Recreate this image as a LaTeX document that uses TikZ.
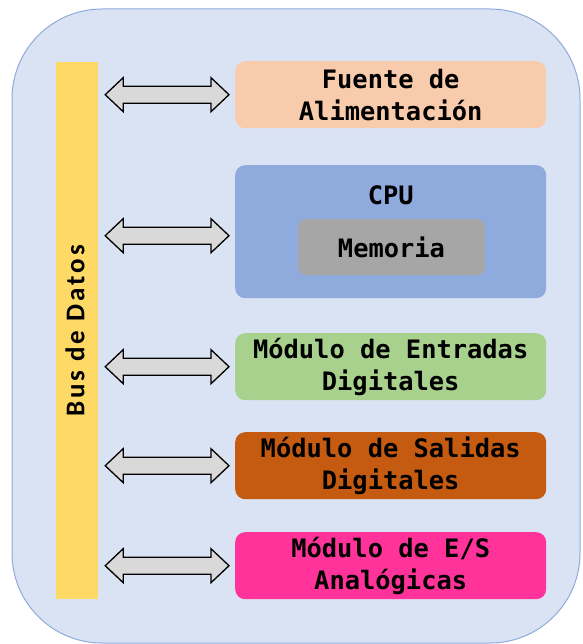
\documentclass[tikz,border=0pt]{standalone}
\usepackage{fontspec}
\usetikzlibrary{calc}
\newfontfamily\boxfont{DejaVu Sans Mono}
\newfontfamily\busfont{Carlito}[LetterSpace=11]
\definecolor{fondo}{HTML}{DAE3F3}
\definecolor{borde}{HTML}{8FAADC}
\definecolor{bus}{HTML}{FFD966}
\definecolor{fuente}{HTML}{F8CBAD}
\definecolor{cpu}{HTML}{8FAADC}
\definecolor{memoria}{HTML}{A6A6A6}
\definecolor{entradas}{HTML}{A9D18E}
\definecolor{salidas}{HTML}{C55A11}
\definecolor{analog}{HTML}{FF3399}
\definecolor{flecha}{HTML}{D9D9D9}
\newcommand{\busarrow}[2][0]{%
  \path (bus.east |- #2.west) ++(7,#1) coordinate (l);
  \path (#2.west) ++(-6,#1) coordinate (r);
  \draw[busline] (l) -- ++(18,-17) -- ++(0,8.5) -- ($(r)+(-18,-8.5)$) -- ++(0,-8.5)
    -- (r) -- ++(-18,17) -- ++(0,-8.5) -- ($(l)+(18,8.5)$) -- ++(0,8.5) -- cycle;}
\begin{document}
\begin{tikzpicture}[x=1pt, y=-1pt,
  modulo/.style={rounded corners=10pt, minimum width=311pt, minimum height=67pt,
    anchor=north west, align=center, inner sep=0pt,
    font=\boxfont\bfseries\fontsize{25.4}{32}\selectfont},
  busline/.style={draw=black, fill=flecha, line width=1.3pt, line join=miter}]
  \useasboundingbox (0,0) rectangle (582,644);
  \draw[fill=fondo, draw=borde, line width=1pt, rounded corners=90pt] (12,9) rectangle (580,643);
  \node[fill=bus, minimum width=42pt, minimum height=537pt, inner sep=0pt] (bus) at (77,330.5) {};
  \node[rotate=90, font=\busfont\bfseries\fontsize{27}{30}\selectfont] (busname) at (75,331) {Bus de Datos};
  \node[modulo, fill=fuente] (v0) at (235,61) {Fuente de\\Alimentación};
  \node[modulo, fill=cpu, minimum height=133pt] (v1) at (235,165) {};
  \node[font=\boxfont\bfseries\fontsize{25.4}{32}\selectfont] (v1name) at ($(v1.north)+(0,30)$) {CPU};
  \node[fill=memoria, rounded corners=8pt, minimum width=187pt, minimum height=56pt,
    font=\boxfont\bfseries\fontsize{25.4}{32}\selectfont] (v1mem) at (391.5,247) {Memoria};
  \node[modulo, fill=entradas] (v2) at (235,333) {Módulo de Entradas\\Digitales};
  \node[modulo, fill=salidas] (v3) at (235,432) {Módulo de Salidas\\Digitales};
  \node[modulo, fill=analog] (v4) at (235,532) {Módulo de E/S\\Analógicas};
  \busarrow{v0}
  \busarrow[4]{v1}
  \busarrow{v2}
  \busarrow{v3}
  \busarrow{v4}
\end{tikzpicture}
\end{document}
